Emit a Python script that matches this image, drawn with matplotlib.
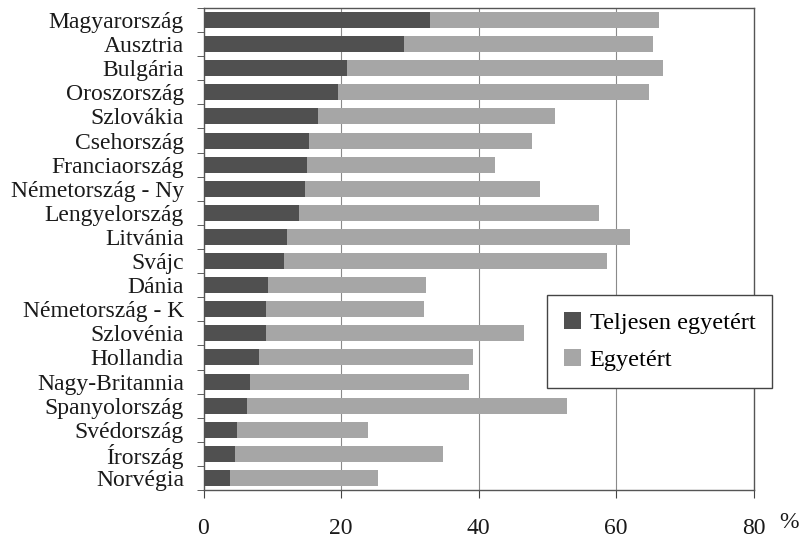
import matplotlib
matplotlib.use("Agg")
import matplotlib.pyplot as plt
import numpy as np

countries = ["Magyarország", "Ausztria", "Bulgária", "Oroszország", "Szlovákia",
             "Csehország", "Franciaország", "Németország - Ny", "Lengyelország",
             "Litvánia", "Svájc", "Dánia", "Németország - K", "Szlovénia",
             "Hollandia", "Nagy-Britannia", "Spanyolország", "Svédország",
             "Írország", "Norvégia"]
teljesen = [32.9, 29.1, 20.9, 19.5, 16.7, 15.3, 15.0, 14.8, 13.9, 12.2,
            11.7, 9.4, 9.1, 9.1, 8.0, 6.8, 6.3, 4.8, 4.6, 3.9]
total = [66.3, 65.4, 66.8, 64.8, 51.1, 47.8, 42.4, 49.0, 57.5, 62.0,
         58.7, 32.3, 32.0, 46.6, 39.2, 38.6, 52.8, 23.9, 34.8, 25.4]
egyetert = [t - d for t, d in zip(total, teljesen)]
xticks = [0, 20, 40, 60, 80]
series_names = ["Teljesen egyetért", "Egyetért"]

plt.rcParams['font.family'] = ['Liberation Serif', 'DejaVu Serif']

fig = plt.figure(figsize=(8.0, 5.39), dpi=100)
ax = fig.add_axes([203.5/800, 1-490/539, 550/800, 482/539])

y = np.arange(len(countries))
dark = '#505050'
light = '#a6a6a6'
ax.barh(y, teljesen, height=0.66, color=dark, label=series_names[0], zorder=3)
ax.barh(y, egyetert, left=teljesen, height=0.66, color=light, label=series_names[1], zorder=3)

ax.set_xlim(0, 80)
ax.set_ylim(len(countries)-0.5, -0.5)
for gx in xticks[1:-1]:
    ax.axvline(gx, color='#8a8a8a', lw=0.8, zorder=1)

ax.set_xticks(xticks)
ax.set_xticklabels([str(v) for v in xticks])
ax.set_yticks(y)
ax.set_yticklabels(countries)
ax.set_yticks(np.arange(-0.5, len(countries)), minor=True)
ax.tick_params(axis='y', which='major', length=0, pad=14, labelsize=17, labelcolor='#1a1a1a')
ax.tick_params(axis='y', which='minor', length=5, direction='out', color='#444444')
ax.tick_params(axis='x', which='major', length=6, direction='out', pad=14, labelsize=17,
               labelcolor='#1a1a1a', color='#444444')
for s in ax.spines.values():
    s.set_color('#555555')
    s.set_linewidth(1.0)

fig.text(789/800, 1-523/539, "%", ha='center', va='center', fontsize=17, color='#1a1a1a')

leg = fig.legend(loc='upper left', bbox_to_anchor=(547/800, 1-295/539), fontsize=17.5,
                 frameon=True, fancybox=False, edgecolor='#444444', framealpha=1,
                 handlelength=0.7, handleheight=0.7, handletextpad=0.35,
                 borderpad=0.7, labelspacing=0.6, borderaxespad=0)
leg.get_frame().set_linewidth(1.0)

fig.savefig("out.png", dpi=100)
